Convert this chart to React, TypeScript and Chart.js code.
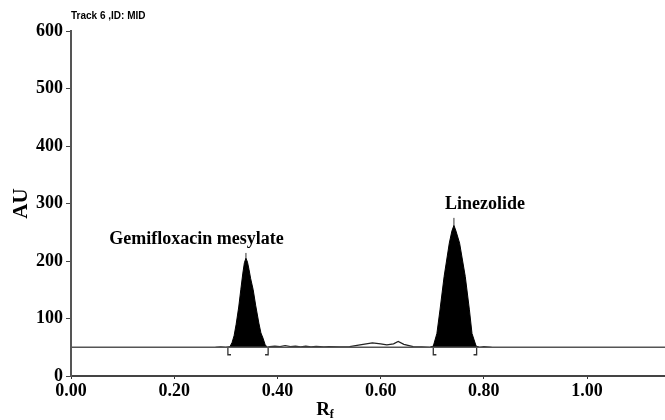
import React, { useEffect, useRef } from 'react';
import { Chart, registerables } from 'chart.js';

Chart.register(...registerables);

// ---- data ----
const xMin = 0;
const xMax = 1.151;
const yMin = 0;
const yMax = 600;
const xStep = 0.2;
const yStep = 100;

const baseLevel = 50;
const baselineX = [0, 1.151];
const baselineY = [50, 50];

const gemiX = [0.300, 0.308, 0.312, 0.316, 0.320, 0.325, 0.329, 0.333, 0.336, 0.339, 0.342, 0.345, 0.348, 0.353, 0.358, 0.364, 0.368, 0.372, 0.376, 0.380];
const gemiY = [50, 51, 58, 70, 90, 120, 150, 179, 197, 205, 198, 185, 170, 150, 122, 92, 75, 66, 55, 50];

const lineX = [0.695, 0.702, 0.709, 0.715, 0.723, 0.733, 0.738, 0.742, 0.746, 0.753, 0.764, 0.772, 0.777, 0.785, 0.792];
const lineY = [50, 52, 74, 115, 173, 231, 252, 262, 252, 231, 173, 115, 74, 52, 50];

const noiseX = [0.280, 0.290, 0.300, null, 0.380, 0.385, 0.395, 0.405, 0.415, 0.425, 0.435, 0.445, 0.455, 0.465, 0.475, 0.490, 0.500, 0.520, 0.540, 0.560, 0.584, 0.600, 0.612, 0.625, 0.634, 0.645, 0.663, 0.680, 0.695, null, 0.792, 0.800, 0.815];
const noiseY = [50, 50.5, 50, null, 50, 51, 52, 51, 53, 51, 52, 50.5, 52, 50.5, 51.5, 50.5, 51, 50.5, 51, 54, 57.5, 56, 54, 56, 60, 55, 51, 50.5, 50, null, 50, 51, 50];

const bracketX = [0.304, 0.382, 0.702, 0.786];
const bracketDir = [1, -1, 1, -1];
const bracketBottom = 37;
const bracketFoot = 0.006;

const peakX = [0.339, 0.742];
const peakTop = [205, 262];
const markerTop = [214, 275];

const labelText = ['Gemifloxacin mesylate', 'Linezolide'];
const labelX = [0.243, 0.802];
const labelY = [237, 299];

const headerText = 'Track 6 ,ID: MID';
const yTitle = 'AU';
const xTitleMain = 'R';
const xTitleSub = 'f';

const SERIF = '"Liberation Serif", "Times New Roman", serif';
const SANS = '"Liberation Sans", Arial, sans-serif';

function pts(xs: (number | null)[], ys: (number | null)[]) {
  return xs.map((x, i) => ({ x: x === null ? xs[i - 1] : x, y: ys[i] }));
}

function bracketPoints() {
  const out: { x: number; y: number | null }[] = [];
  bracketX.forEach((x, i) => {
    out.push({ x, y: baseLevel });
    out.push({ x, y: bracketBottom });
    out.push({ x: x + bracketDir[i] * bracketFoot, y: bracketBottom });
    out.push({ x, y: null });
  });
  return out;
}

function markerPoints() {
  const out: { x: number; y: number | null }[] = [];
  peakX.forEach((x, i) => {
    out.push({ x, y: peakTop[i] });
    out.push({ x, y: markerTop[i] });
    out.push({ x, y: null });
  });
  return out;
}

const textPlugin = {
  id: 'textPlugin',
  afterDraw(chart: any) {
    const { ctx, chartArea } = chart;
    const xs = chart.scales.x;
    const ys = chart.scales.y;
    ctx.save();
    ctx.fillStyle = '#000';
    ctx.textBaseline = 'middle';
    ctx.textAlign = 'center';
    ctx.font = `bold 18px ${SERIF}`;
    labelText.forEach((t, i) => {
      ctx.fillText(t, xs.getPixelForValue(labelX[i]), ys.getPixelForValue(labelY[i]));
    });
    // header
    ctx.textAlign = 'left';
    ctx.font = `bold 10px ${SANS}`;
    ctx.fillText(headerText, chartArea.left, 16);
    // x title R_f
    ctx.textBaseline = 'alphabetic';
    ctx.font = `bold 19px ${SERIF}`;
    const rw = ctx.measureText(xTitleMain).width;
    ctx.font = `bold 12px ${SERIF}`;
    const fw = ctx.measureText(xTitleSub).width;
    const cx = (chartArea.left + chartArea.right) / 2 - 43;
    const startX = cx - (rw + fw) / 2;
    ctx.font = `bold 19px ${SERIF}`;
    ctx.fillText(xTitleMain, startX, 415);
    ctx.font = `bold 12px ${SERIF}`;
    ctx.fillText(xTitleSub, startX + rw, 418);
    ctx.restore();
  },
};

export default function App() {
  const ref = useRef<HTMLCanvasElement | null>(null);

  useEffect(() => {
    if (!ref.current) return;
    const chart = new Chart(ref.current, {
      type: 'line',
      data: {
        datasets: [
          {
            label: 'Baseline',
            data: pts(baselineX, baselineY),
            borderColor: '#555',
            borderWidth: 1.5,
            pointRadius: 0,
            fill: false,
          },
          {
            label: 'Signal',
            data: pts(noiseX, noiseY),
            borderColor: '#222',
            borderWidth: 1.2,
            pointRadius: 0,
            fill: false,
            spanGaps: false,
          },
          {
            label: 'Gemifloxacin mesylate',
            data: pts(gemiX, gemiY),
            borderColor: '#000',
            backgroundColor: '#000',
            borderWidth: 1,
            pointRadius: 0,
            fill: { value: baseLevel },
          },
          {
            label: 'Linezolide',
            data: pts(lineX, lineY),
            borderColor: '#000',
            backgroundColor: '#000',
            borderWidth: 1,
            pointRadius: 0,
            fill: { value: baseLevel },
          },
          {
            label: 'Brackets',
            data: bracketPoints(),
            borderColor: '#333',
            borderWidth: 1.3,
            pointRadius: 0,
            fill: false,
            spanGaps: false,
          },
          {
            label: 'Markers',
            data: markerPoints(),
            borderColor: '#333',
            borderWidth: 1,
            pointRadius: 0,
            fill: false,
            spanGaps: false,
          },
        ],
      },
      options: {
        animation: false,
        responsive: true,
        maintainAspectRatio: false,
        parsing: true,
        layout: { padding: { top: 31, right: 0, left: 0, bottom: 0 } },
        plugins: {
          legend: { display: false },
          tooltip: { enabled: false },
        },
        elements: { line: { tension: 0 } },
        scales: {
          x: {
            type: 'linear',
            min: xMin,
            max: xMax,
            ticks: {
              stepSize: xStep,
              includeBounds: false,
              autoSkip: false,
              maxRotation: 0,
              color: '#000',
              padding: 2,
              font: { family: SERIF, size: 18, weight: 'bold' },
              callback: (v: any) => Number(v).toFixed(2),
            },
            grid: { drawOnChartArea: false, drawTicks: true, tickLength: 3, color: '#333' },
            border: { display: true, color: '#444', width: 2 },
            afterFit: (s: any) => { s.height = 44; },
          },
          y: {
            type: 'linear',
            min: yMin,
            max: yMax,
            ticks: {
              stepSize: yStep,
              color: '#000',
              padding: 3,
              font: { family: SERIF, size: 18, weight: 'bold' },
            },
            grid: { drawOnChartArea: false, drawTicks: true, tickLength: 5, color: '#444' },
            border: { display: true, color: '#555', width: 2 },
            title: {
              display: true,
              text: yTitle,
              color: '#000',
              font: { family: SERIF, size: 21, weight: 'bold' },
              padding: { top: 9, bottom: 0 },
            },
            afterFit: (s: any) => { s.width = 71; },
          },
        },
      },
      plugins: [textPlugin],
    } as any);
    return () => chart.destroy();
  }, []);

  return (
    <div style={{ position: 'absolute', left: 0, top: 0, width: 665, height: 420, background: '#fff' }}>
      <canvas ref={ref} />
    </div>
  );
}
